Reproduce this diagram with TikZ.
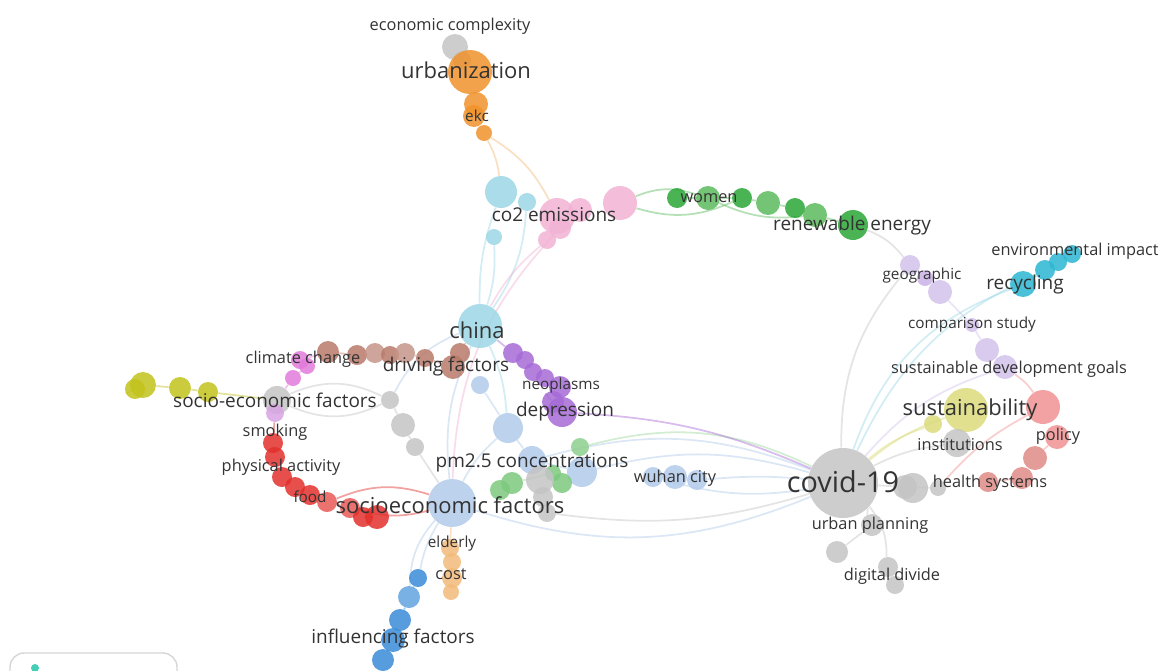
\documentclass[tikz,border=0pt]{standalone}
\usepackage{fontspec}
\setmainfont{Open Sans}
\usetikzlibrary{backgrounds}

\definecolor{vgrey}{HTML}{C4C4C4}
\definecolor{vcyan}{HTML}{9CD6E6}
\definecolor{vorange}{HTML}{F0922A}
\definecolor{vpink}{HTML}{F2B2D4}
\definecolor{vgreen}{HTML}{2AA636}
\definecolor{vgreenl}{HTML}{5CBA5E}
\definecolor{vlav}{HTML}{D2C2EA}
\definecolor{vteal}{HTML}{2CB6D2}
\definecolor{vyellow}{HTML}{DADA7A}
\definecolor{volive}{HTML}{C2C21C}
\definecolor{vsalmon}{HTML}{F09292}
\definecolor{vbrown}{HTML}{B87A6A}
\definecolor{vmagenta}{HTML}{E27ADA}
\definecolor{vpurple}{HTML}{A66AD6}
\definecolor{vred}{HTML}{E2302C}
\definecolor{vlblue}{HTML}{B2CAEA}
\definecolor{vblue}{HTML}{3A8CD8}
\definecolor{vpeach}{HTML}{F2BA7A}
\definecolor{vtext}{HTML}{333333}

\tikzset{
  bub/.style={circle, inner sep=0pt, draw=none, fill opacity=0.85},
  rad/.style={minimum size=#1*0.04cm},
  lbl/.style={text=vtext, inner sep=0pt},
  lblxs/.style={lbl, font=\fontsize{8.7}{10}\selectfont},
  lbls/.style={lbl, font=\fontsize{9.3}{11}\selectfont},
  lblm/.style={lbl, font=\fontsize{10.8}{12}\selectfont},
  lbll/.style={lbl, font=\fontsize{12.5}{14}\selectfont},
  lblxl/.style={lbl, font=\fontsize{16.4}{18}\selectfont},
  link/.style={line width=1pt, draw opacity=0.45},
}

\begin{document}
\begin{tikzpicture}[x=0.02cm, y=-0.02cm]
  \useasboundingbox (0,0) rectangle (1158,670);

  % urbanization / ekc
  \node[bub, fill=vgrey, rad=13] (ec1) at (455,47) {};
  \node[bub, fill=vgrey, rad=9] (ec2) at (462,60) {};
  \node[bub, fill=vorange, rad=22] (urb) at (470,72) {};
  \node[bub, fill=vorange, rad=12] (ekc1) at (476,104) {};
  \node[bub, fill=vorange, rad=11] (ekc2) at (474,116) {};
  \node[bub, fill=vorange, rad=8] (ekc3) at (484,133) {};

  % co2 emissions (cyan) and pink
  \node[bub, fill=vcyan, rad=16] (co2a) at (501,192) {};
  \node[bub, fill=vcyan, rad=9] (co2b) at (527,202) {};
  \node[bub, fill=vcyan, rad=8] (co2c) at (494,237) {};
  \node[bub, fill=vpink, rad=18] (pk1) at (557,216) {};
  \node[bub, fill=vpink, rad=12] (pk2) at (580,210) {};
  \node[bub, fill=vpink, rad=11] (pk3) at (560,228) {};
  \node[bub, fill=vpink, rad=9] (pk4) at (547,240) {};
  \node[bub, fill=vpink, rad=17] (pk5) at (620,203) {};

  % women / renewable energy
  \node[bub, fill=vgreen, rad=10] (gr1) at (677,198) {};
  \node[bub, fill=vgreenl, rad=12] (gr2) at (708,198) {};
  \node[bub, fill=vgreen, rad=10] (gr3) at (742,198) {};
  \node[bub, fill=vgreenl, rad=12] (gr4) at (768,203) {};
  \node[bub, fill=vgreen, rad=10] (gr5) at (795,208) {};
  \node[bub, fill=vgreenl, rad=12] (gr6) at (815,215) {};
  \node[bub, fill=vgreen, rad=15] (gr7) at (853,225) {};

  % geographic, recycling, sdg
  \node[bub, fill=vlav, rad=10] (geo1) at (910,265) {};
  \node[bub, fill=vlav!80!vpurple, rad=8] (geo2) at (925,278) {};
  \node[bub, fill=vlav, rad=12] (geo3) at (940,292) {};
  \node[bub, fill=vteal, rad=13] (rec) at (1023,284) {};
  \node[bub, fill=vteal, rad=10] (env1) at (1045,270) {};
  \node[bub, fill=vteal, rad=9] (env2) at (1058,262) {};
  \node[bub, fill=vteal, rad=9] (env3) at (1072,254) {};
  \node[bub, fill=vlav, rad=7] (cmp) at (972,325) {};
  \node[bub, fill=vlav, rad=12] (sdg1) at (987,350) {};
  \node[bub, fill=vlav, rad=12] (sdg2) at (1005,367) {};

  % sustainability, policy, covid-19
  \node[bub, fill=vyellow, rad=22] (sus) at (966,410) {};
  \node[bub, fill=vyellow, rad=9] (sus2) at (933,424) {};
  \node[bub, fill=vsalmon, rad=17] (pol1) at (1043,407) {};
  \node[bub, fill=vsalmon, rad=12] (pol2) at (1057,437) {};
  \node[bub, fill=vsalmon!70!vbrown, rad=12] (hs1) at (1035,458) {};
  \node[bub, fill=vsalmon!70!vbrown, rad=11] (hs2) at (1022,478) {};
  \node[bub, fill=vsalmon!70!vbrown, rad=10] (hs3) at (988,482) {};
  \node[bub, fill=vgrey, rad=14] (inst) at (957,443) {};
  \node[bub, fill=vgrey, rad=35] (cov) at (843,483) {};
  \node[bub, fill=vgrey, rad=12] (cv1) at (905,487) {};
  \node[bub, fill=vgrey, rad=15] (cv2) at (913,488) {};
  \node[bub, fill=vgrey, rad=8] (cv3) at (938,488) {};
  \node[bub, fill=vgrey, rad=11] (up) at (872,525) {};
  \node[bub, fill=vgrey, rad=11] (up2) at (837,552) {};
  \node[bub, fill=vgrey, rad=10] (dd1) at (888,567) {};
  \node[bub, fill=vgrey, rad=9] (dd2) at (895,585) {};

  % wuhan city, pm2.5, depression
  \node[bub, fill=vlblue, rad=10] (wu1) at (653,477) {};
  \node[bub, fill=vlblue, rad=12] (wu2) at (675,477) {};
  \node[bub, fill=vlblue, rad=10] (wu3) at (697,480) {};
  \node[bub, fill=vlblue, rad=15] (pm1) at (582,472) {};
  \node[bub, fill=vlblue, rad=14] (pm2) at (532,460) {};
  \node[bub, fill=vlblue, rad=15] (pm3) at (508,428) {};
  \node[bub, fill=vlblue, rad=9] (pm4) at (480,385) {};
  \node[bub, fill=vpurple, rad=10] (dep1) at (513,353) {};
  \node[bub, fill=vpurple, rad=9] (dep2) at (525,360) {};
  \node[bub, fill=vpurple, rad=9] (dep3) at (533,372) {};
  \node[bub, fill=vpurple, rad=9] (dep4) at (545,378) {};
  \node[bub, fill=vpurple, rad=11] (dep5) at (560,387) {};
  \node[bub, fill=vpurple, rad=11] (dep6) at (553,402) {};
  \node[bub, fill=vpurple, rad=15] (dep) at (562,412) {};
  \node[bub, fill=vgreenl!70, rad=9] (pg1) at (580,447) {};
  \node[bub, fill=vgreenl!80, rad=10] (pg2) at (500,490) {};
  \node[bub, fill=vgreenl!80, rad=11] (pg3) at (512,483) {};
  \node[bub, fill=vgreenl!80, rad=10] (pg4) at (562,483) {};
  \node[bub, fill=vgreenl!80, rad=8] (pg5) at (553,473) {};
  \node[bub, fill=vgrey, rad=14] (pgy1) at (540,480) {};
  \node[bub, fill=vgrey, rad=10] (pgy2) at (543,497) {};
  \node[bub, fill=vgrey, rad=9] (pgy3) at (547,513) {};

  % china and socioeconomic factors
  \node[bub, fill=vcyan, rad=22] (chn) at (480,326) {};
  \node[bub, fill=vlblue, rad=24] (soc) at (452,503) {};
  \node[bub, fill=vgrey, rad=9] (gl1) at (390,400) {};
  \node[bub, fill=vgrey, rad=12] (gl2) at (403,425) {};
  \node[bub, fill=vgrey, rad=9] (gl3) at (415,447) {};

  % driving factors (brown), climate change, socio-economic factors
  \node[bub, fill=vbrown, rad=11] (br1) at (328,352) {};
  \node[bub, fill=vbrown, rad=10] (br2) at (357,355) {};
  \node[bub, fill=vbrown!80, rad=10] (br3) at (375,353) {};
  \node[bub, fill=vbrown, rad=9] (br4) at (390,355) {};
  \node[bub, fill=vbrown!80, rad=10] (br5) at (405,353) {};
  \node[bub, fill=vbrown, rad=9] (br6) at (425,358) {};
  \node[bub, fill=vbrown, rad=12] (br7) at (453,367) {};
  \node[bub, fill=vbrown, rad=10] (br8) at (460,353) {};
  \node[bub, fill=vmagenta, rad=9] (cc1) at (300,360) {};
  \node[bub, fill=vmagenta, rad=8] (cc2) at (307,366) {};
  \node[bub, fill=vmagenta, rad=8] (cc3) at (293,378) {};
  \node[bub, fill=vgrey, rad=14] (sef) at (277,400) {};
  \node[bub, fill=vlav!60!vmagenta, rad=9] (sef2) at (275,413) {};
  \node[bub, fill=volive, rad=13] (ol1) at (143,385) {};
  \node[bub, fill=volive, rad=10] (ol2) at (135,389) {};
  \node[bub, fill=volive, rad=11] (ol3) at (180,388) {};
  \node[bub, fill=volive, rad=10] (ol4) at (208,392) {};

  % smoking ... food (red)
  \node[bub, fill=vred, rad=10] (rd1) at (273,443) {};
  \node[bub, fill=vred, rad=10] (rd2) at (275,457) {};
  \node[bub, fill=vred, rad=10] (rd3) at (282,477) {};
  \node[bub, fill=vred, rad=10] (rd4) at (295,487) {};
  \node[bub, fill=vred, rad=10] (rd5) at (310,495) {};
  \node[bub, fill=vred!80, rad=10] (rd6) at (327,502) {};
  \node[bub, fill=vred!80, rad=10] (rd7) at (350,508) {};
  \node[bub, fill=vred, rad=10] (rd8) at (363,517) {};
  \node[bub, fill=vred, rad=12] (rd9) at (377,517) {};

  % elderly / cost and influencing factors
  \node[bub, fill=vpeach, rad=9] (eld1) at (450,548) {};
  \node[bub, fill=vpeach, rad=9] (eld2) at (452,562) {};
  \node[bub, fill=vpeach, rad=10] (cst1) at (452,578) {};
  \node[bub, fill=vpeach, rad=8] (cst2) at (451,592) {};
  \node[bub, fill=vblue, rad=9] (inf1) at (418,578) {};
  \node[bub, fill=vblue!80, rad=11] (inf2) at (409,597) {};
  \node[bub, fill=vblue, rad=11] (inf3) at (400,620) {};
  \node[bub, fill=vblue, rad=12] (inf4) at (393,640) {};
  \node[bub, fill=vblue, rad=11] (inf5) at (383,660) {};

  % links
  \begin{scope}[on background layer]
    \draw[link, vpeach] (ekc3) to[bend left=10] (co2a);
    \draw[link, vpeach] (ekc3) to[bend left=15] (pk1);
    \draw[link, vpeach] (urb) to (ekc1);
    \draw[link, vcyan] (co2a) to[bend right=10] (chn);
    \draw[link, vcyan] (co2c) to[bend left=10] (chn);
    \draw[link, vcyan] (co2b) to[bend left=15] (chn);
    \draw[link, vpink] (pk4) to[bend right=10] (chn);
    \draw[link, vpink] (pk3) to[bend right=20] (soc);
    \draw[link, vgreenl] (pk5) to[bend left=20] (gr2);
    \draw[link, vgreenl] (pk5) to[bend right=20] (gr3);
    \draw[link, vgreenl] (gr1) -- (gr2) -- (gr3) -- (gr4) -- (gr5) -- (gr6) -- (gr7);
    \draw[link, vgreenl] (gr2) to[bend right=15] (gr6);
    \draw[link, vgrey] (gr7) to[bend left=15] (geo1);
    \draw[link, vlav] (geo1) -- (geo2) -- (geo3) -- (cmp) -- (sdg1) -- (sdg2);
    \draw[link, vgrey] (geo1) to[bend right=20] (cov);
    \draw[link, vcyan] (rec) to[bend right=25] (cov);
    \draw[link, vcyan] (env1) to[bend right=20] (cov);
    \draw[link, vteal] (rec) -- (env1) -- (env2) -- (env3);
    \draw[link, vlav] (sdg2) to[bend right=15] (cov);
    \draw[link, vsalmon] (sdg2) to[bend left=10] (pol1);
    \draw[link, vyellow] (sus) to[bend right=10] (cov);
    \draw[link, vyellow] (sus2) to[bend right=10] (cov);
    \draw[link, vsalmon] (pol2) -- (hs1) -- (hs2) -- (hs3);
    \draw[link, vsalmon] (cv3) to[bend left=10] (pol1);
    \draw[link, vgrey] (cov) -- (cv1) -- (cv3);
    \draw[link, vgrey] (inst) to[bend right=10] (cov);
    \draw[link, vgrey] (cov) to[bend left=10] (up);
    \draw[link, vgrey] (up) -- (up2);
    \draw[link, vgrey] (cov) to[bend left=20] (dd1);
    \draw[link, vgrey] (dd1) -- (dd2);
    \draw[link, vlblue] (wu1) -- (wu2) -- (wu3);
    \draw[link, vlblue] (wu3) to[bend left=5] (cov);
    \draw[link, vlblue] (wu1) to[bend right=12] (cov);
    \draw[link, vlblue] (pm1) to[bend left=15] (cov);
    \draw[link, vlblue] (pm2) to[bend left=18] (cov);
    \draw[link, vgreenl!60] (pg1) to[bend left=20] (cov);
    \draw[link, vlblue] (soc) to[bend right=20] (cov);
    \draw[link, vgrey] (pgy3) to[bend right=12] (cov);
    \draw[link, vpurple] (dep) to[bend left=10] (cov);
    \draw[link, vpurple] (chn) -- (dep1) -- (dep2) -- (dep3) -- (dep4) -- (dep5) -- (dep6) -- (dep);
    \draw[link, vlblue] (chn) to[bend right=15] (soc);
    \draw[link, vcyan] (chn) to[bend left=10] (pm3);
    \draw[link, vlblue] (pm4) -- (pm3) -- (pm2) -- (pm1);
    \draw[link, vlblue] (pm3) to[bend right=10] (soc);
    \draw[link, vgreenl!60] (pg2) -- (pg3) -- (pg5) -- (pg4);
    \draw[link, vgrey] (pgy1) -- (pgy2) -- (pgy3);
    \draw[link, vbrown] (chn) to[bend right=5] (br8);
    \draw[link, vbrown] (br8) -- (br7) -- (br6) -- (br5) -- (br4) -- (br3) -- (br2) -- (br1);
    \draw[link, vmagenta] (br1) -- (cc1) -- (cc2) -- (cc3) -- (sef);
    \draw[link, volive] (ol2) -- (ol1) -- (ol3) -- (ol4) -- (sef);
    \draw[link, vgrey] (sef) to[bend left=25] (gl1);
    \draw[link, vgrey] (sef) to[bend right=25] (gl1);
    \draw[link, vgrey] (gl1) -- (gl2) -- (gl3) -- (soc);
    \draw[link, vlblue] (chn) to[bend right=20] (gl1);
    \draw[link, vred] (sef2) -- (rd1) -- (rd2) -- (rd3) -- (rd4) -- (rd5) -- (rd6) -- (rd7) -- (rd8) -- (rd9);
    \draw[link, vred] (rd6) to[bend left=20] (soc);
    \draw[link, vred] (rd7) to[bend right=15] (soc);
    \draw[link, vpeach] (soc) -- (eld1) -- (eld2) -- (cst1) -- (cst2);
    \draw[link, vlblue] (soc) to[bend right=10] (inf1);
    \draw[link, vlblue] (soc) to[bend right=20] (inf2);
    \draw[link, vblue] (inf1) -- (inf2) -- (inf3) -- (inf4) -- (inf5);
  \end{scope}

  % labels
  \node[lbls] (l-ec) at (450,26) {economic complexity};
  \node[lbll] (l-urb) at (466,70) {urbanization};
  \node[lblxs] (l-ekc) at (477,116) {ekc};
  \node[lblm] (l-co2) at (554,215) {co2 emissions};
  \node[lbls] (l-wom) at (709,198) {women};
  \node[lblm] (l-ren) at (852,226) {renewable energy};
  \node[lbls] (l-env) at (1075,251) {environmental impact};
  \node[lblxs] (l-geo) at (922,276) {geographic};
  \node[lblm] (l-rec) at (1025,285) {recycling};
  \node[lblxs] (l-cmp) at (972,325) {comparison study};
  \node[lbls] (l-sdg) at (1009,369) {sustainable development goals};
  \node[lbll] (l-sus) at (970,410) {sustainability};
  \node[lbls] (l-pol) at (1058,436) {policy};
  \node[lbls] (l-inst) at (960,445) {institutions};
  \node[lblxl] (l-cov) at (843,482) {covid-19};
  \node[lbls] (l-hs) at (990,483) {health systems};
  \node[lbls] (l-up) at (870,525) {urban planning};
  \node[lbls] (l-dd) at (892,576) {digital divide};
  \node[lbls] (l-wu) at (675,478) {wuhan city};
  \node[lbll] (l-chn) at (477,330) {china};
  \node[lbls] (l-cc) at (303,359) {climate change};
  \node[lblm] (l-drv) at (446,367) {driving factors};
  \node[lblxs] (l-neo) at (561,386) {neoplasms};
  \node[lblm] (l-dep) at (565,412) {depression};
  \node[lblm] (l-sef) at (275,400) {socio-economic factors};
  \node[lbls] (l-smk) at (275,432) {smoking};
  \node[lbls] (l-pa) at (281,467) {physical activity};
  \node[lblxs] (l-food) at (310,497) {food};
  \node[lbll] (l-soc) at (450,505) {socioeconomic factors};
  \node[lblm] (l-pm) at (532,463) {pm2.5 concentrations};
  \node[lblxs] (l-eld) at (452,544) {elderly};
  \node[lbls] (l-cst) at (451,574) {cost};
  \node[lblm] (l-inf) at (393,639) {influencing factors};

  % logo box, bottom left
  \draw[vgrey!70, line width=0.8pt, rounded corners=8] (10,672) -- (10,653) -- (177,653) -- (177,672);
  \node[bub, fill=vteal!80!green, rad=4] (logo) at (35,668) {};
\end{tikzpicture}
\end{document}
